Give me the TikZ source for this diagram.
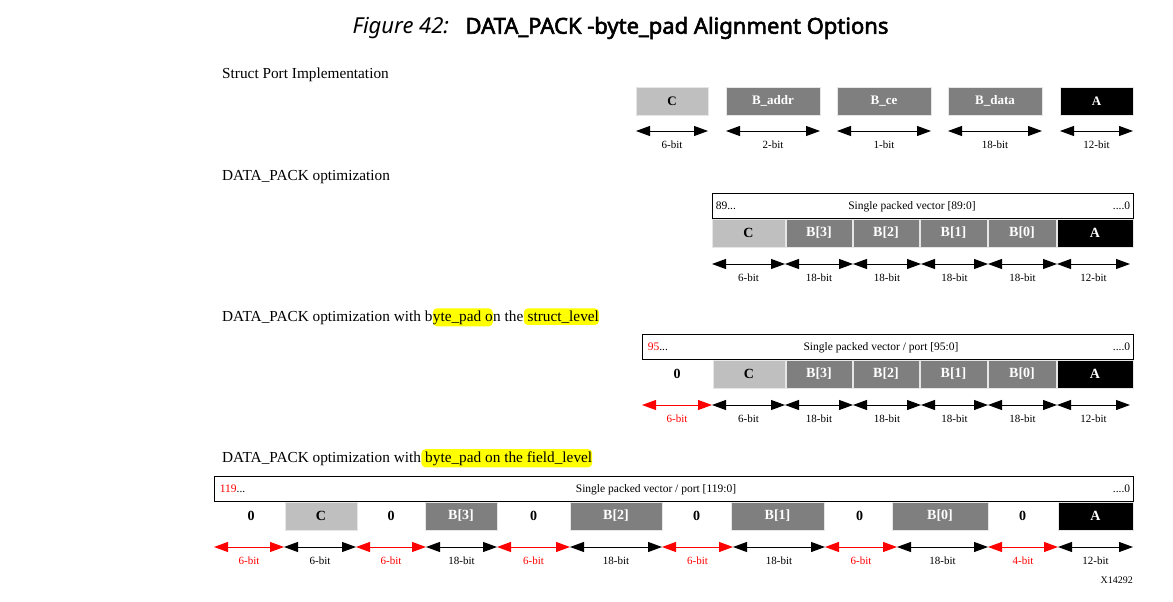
\documentclass[tikz,border=0pt]{standalone}
\usepackage{fontspec}
\setmainfont{Liberation Serif}
\newfontfamily\titlefont{Noto Sans}
\newfontfamily\titleboldfont{Noto Sans}[FakeBold=2.6]
\usetikzlibrary{arrows.meta}
\definecolor{lgray}{HTML}{BFBFBF}
\definecolor{mgray}{HTML}{7F7F7F}
\definecolor{hly}{HTML}{FFFF00}
\definecolor{pr}{HTML}{FF0000}
\definecolor{edge}{HTML}{E6E6E6}
\newcommand\cell[6]{\node[#5, minimum width={(#3)-(#2)}, minimum height=28] (#1) at ({((#2)+(#3))/2},#4) {#6};}
\newcommand\bitarrow[6]{%
  \coordinate (#1l) at (#2,#4); \coordinate (#1r) at (#3,#4);
  \draw[dimline,#5] (#1l) -- (#1r);
  \node[lbl,text=#5] (#1t) at ({((#2)+(#3))/2},{(#4)+13.5}) {#6};}
\begin{document}
\begin{tikzpicture}[x=1pt,y=-1pt,
  cellbase/.style={rectangle, draw=edge, line width=0.6pt, inner sep=0, font=\fontsize{14}{16}\selectfont\bfseries},
  cc/.style={cellbase, fill=lgray, text=black},
  cb/.style={cellbase, fill=mgray, text=white},
  ca/.style={cellbase, fill=black, text=white},
  cz/.style={cellbase, draw=none, fill=none, text=black},
  small/.style={font=\fontsize{13}{15}\selectfont\bfseries},
  dimline/.style={line width=1pt, {Triangle[length=14pt,width=10pt]}-{Triangle[length=14pt,width=10pt]}},
  lbl/.style={font=\fontsize{11}{13}\selectfont, inner sep=0},
  vl/.style={font=\fontsize{11.5}{13}\selectfont, inner sep=0},
  vbox/.style={draw, line width=0.8pt, inner sep=0, minimum height=25},
  head/.style={font=\fontsize{15.3}{18}\selectfont, inner xsep=0, inner ysep=2pt, anchor=base west},
  hl/.style={fill=hly, rounded corners=4pt}
]
\useasboundingbox (0,0) rectangle (1173,602);

% title
\node[font=\fontsize{22}{26}\selectfont] (title) at (620.5,28)
  {\titlefont\itshape Figure 42:\hspace{0.75em}\titleboldfont\upshape DATA\_PACK -byte\_pad Alignment Options};

% headings
\node[head] (h1) at (222,78) {Struct Port Implementation};
\node[head] (h2) at (222,180) {DATA\_PACK optimization};
\node[head] (h3a) at (222,321) {DATA\_PACK optimization with b};
\node[head,hl] (h3b) at (h3a.base east) {yte\_pad o};
\node[head] (h3c) at (h3b.base east) {n the};
\node[head,hl] (h3d) at (h3c.base east) {\ struct\_level};
\node[head] (h4a) at (222,462) {DATA\_PACK optimization with};
\node[head,hl] (h4b) at (h4a.base east) {\ byte\_pad on the field\_level};

% row 1
\cell{r1c}{636}{708}{101}{cc,small}{C}
\cell{r1ba}{726}{820}{101}{cb,small}{B\_addr}
\cell{r1bc}{837}{931}{101}{cb,small}{B\_ce}
\cell{r1bd}{948}{1042}{101}{cb,small}{B\_data}
\cell{r1a}{1060}{1133}{101}{ca,small}{A}
\bitarrow{r1w1}{636}{708}{131}{black}{6-bit}
\bitarrow{r1w2}{726}{820}{131}{black}{2-bit}
\bitarrow{r1w3}{837}{931}{131}{black}{1-bit}
\bitarrow{r1w4}{948}{1042}{131}{black}{18-bit}
\bitarrow{r1w5}{1060}{1133}{131}{black}{12-bit}

% row 2
\node[vbox, minimum width=421] (v2) at (922.5,205.5) {};
\node[vl, anchor=west] (v2l) at ([xshift=4pt]v2.west) {89...};
\node[vl] (v2c) at (912,206.5) {Single packed vector [89:0]};
\node[vl, anchor=east] (v2r) at ([xshift=-3pt]v2.east) {....0};
\cell{r2c}{712}{785}{233}{cc}{C}
\cell{r2b3}{786}{852}{233}{cb}{B[3]}
\cell{r2b2}{853}{919}{233}{cb}{B[2]}
\cell{r2b1}{920}{987}{233}{cb}{B[1]}
\cell{r2b0}{988}{1056}{233}{cb}{B[0]}
\cell{r2a}{1057}{1133}{233}{ca}{A}
\bitarrow{r2w1}{712}{785}{264}{black}{6-bit}
\bitarrow{r2w2}{785}{853}{264}{black}{18-bit}
\bitarrow{r2w3}{853}{921}{264}{black}{18-bit}
\bitarrow{r2w4}{921}{988}{264}{black}{18-bit}
\bitarrow{r2w5}{988}{1057}{264}{black}{18-bit}
\bitarrow{r2w6}{1057}{1130}{264}{black}{12-bit}

% row 3
\node[vbox, minimum width=491] (v3) at (887.5,346.5) {};
\node[vl, anchor=west, text=pr] (v3l) at ([xshift=6pt]v3.west) {95\textcolor{black}{...}};
\node[vl] (v3c) at (881,347.5) {Single packed vector / port [95:0]};
\node[vl, anchor=east] (v3r) at ([xshift=-3pt]v3.east) {....0};
\cell{r3z}{642}{712}{374}{cz}{0}
\cell{r3c}{713}{785}{374}{cc}{C}
\cell{r3b3}{786}{852}{374}{cb}{B[3]}
\cell{r3b2}{853}{919}{374}{cb}{B[2]}
\cell{r3b1}{920}{987}{374}{cb}{B[1]}
\cell{r3b0}{988}{1056}{374}{cb}{B[0]}
\cell{r3a}{1057}{1133}{374}{ca}{A}
\bitarrow{r3w0}{642}{712}{405}{pr}{6-bit}
\bitarrow{r3w1}{712}{785}{405}{black}{6-bit}
\bitarrow{r3w2}{785}{853}{405}{black}{18-bit}
\bitarrow{r3w3}{853}{921}{405}{black}{18-bit}
\bitarrow{r3w4}{921}{988}{405}{black}{18-bit}
\bitarrow{r3w5}{988}{1057}{405}{black}{18-bit}
\bitarrow{r3w6}{1057}{1130}{405}{black}{12-bit}

% row 4
\node[vbox, minimum width=919] (v4) at (673.5,489) {};
\node[vl, anchor=west, text=pr] (v4l) at ([xshift=6pt]v4.west) {119\textcolor{black}{...}};
\node[vl] (v4c) at (656,490) {Single packed vector / port [119:0]};
\node[vl, anchor=east] (v4r) at ([xshift=-3pt]v4.east) {....0};
\cell{r4z1}{216}{286}{516}{cz}{0}
\cell{r4c}{285}{357}{516}{cc}{C}
\cell{r4z2}{358}{424}{516}{cz}{0}
\cell{r4b3}{425}{497}{516}{cb}{B[3]}
\cell{r4z3}{498}{569}{516}{cz}{0}
\cell{r4b2}{570}{662}{516}{cb}{B[2]}
\cell{r4z4}{663}{730}{516}{cz}{0}
\cell{r4b1}{731}{824}{516}{cb}{B[1]}
\cell{r4z5}{825}{894}{516}{cz}{0}
\cell{r4b0}{892}{988}{516}{cb}{B[0]}
\cell{r4z6}{989}{1056}{516}{cz}{0}
\cell{r4a}{1058}{1133}{516}{ca}{A}
\bitarrow{r4w1}{214}{284}{547}{pr}{6-bit}
\bitarrow{r4w2}{284}{356}{547}{black}{6-bit}
\bitarrow{r4w3}{356}{426}{547}{pr}{6-bit}
\bitarrow{r4w4}{426}{497}{547}{black}{18-bit}
\bitarrow{r4w5}{497}{570}{547}{pr}{6-bit}
\bitarrow{r4w6}{570}{662}{547}{black}{18-bit}
\bitarrow{r4w7}{662}{733}{547}{pr}{6-bit}
\bitarrow{r4w8}{733}{825}{547}{black}{18-bit}
\bitarrow{r4w9}{825}{897}{547}{pr}{6-bit}
\bitarrow{r4w10}{897}{988}{547}{black}{18-bit}
\bitarrow{r4w11}{988}{1058}{547}{pr}{4-bit}
\bitarrow{r4w12}{1058}{1133}{547}{black}{12-bit}

\node[font=\fontsize{10}{12}\selectfont, anchor=east, inner sep=0] (xid) at (1133,580) {X14292};
\end{tikzpicture}
\end{document}
